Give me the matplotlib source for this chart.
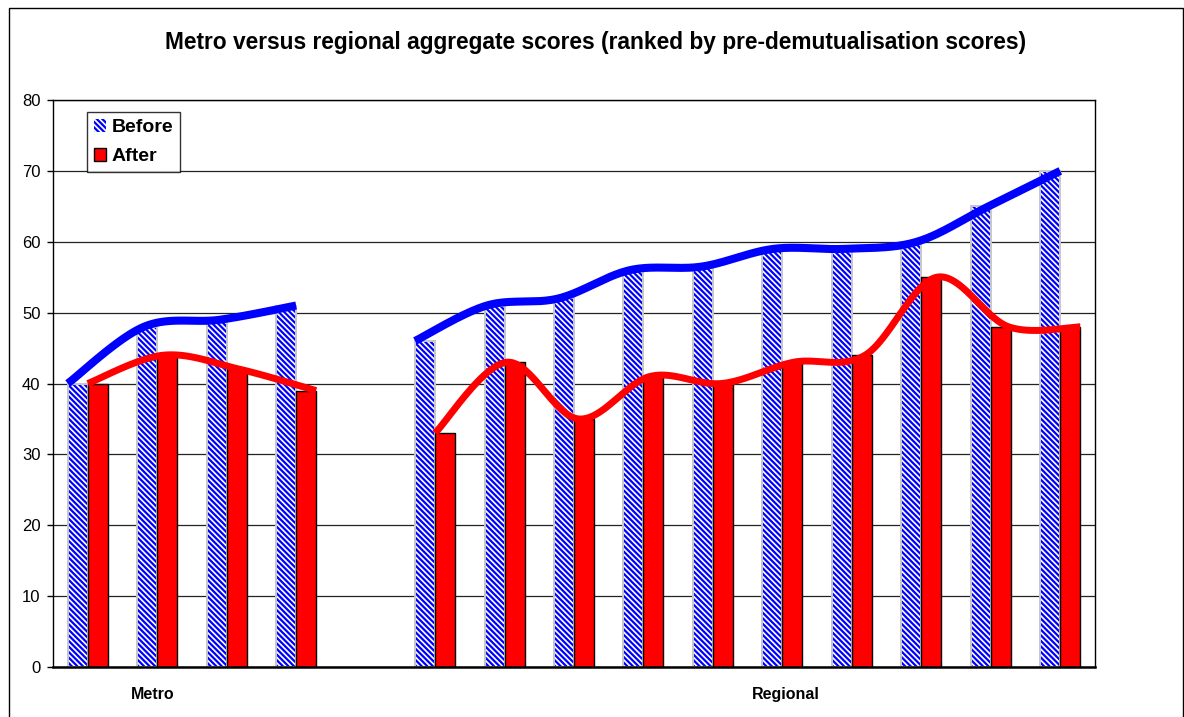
import numpy as np
import matplotlib
matplotlib.use("Agg")
import matplotlib.pyplot as plt
from matplotlib.patches import Rectangle, Patch

plt.rcParams['font.family'] = ['Liberation Sans', 'DejaVu Sans']
plt.rcParams['hatch.linewidth'] = 1.6

# ---- data ----
groups = ["Metro", "Regional"]
metro_before = [40, 48, 49, 51]
metro_after = [40, 44, 42, 39]
regional_before = [46, 51, 52, 56, 56.5, 59, 59, 60, 65, 70]
regional_after = [33, 43, 35, 41, 40, 43, 44, 55, 48, 48]
yticks = [0, 10, 20, 30, 40, 50, 60, 70, 80]
title = "Metro versus regional aggregate scores (ranked by pre-demutualisation scores)"

# ---- layout ----
W, H = 1184, 717
fig = plt.figure(figsize=(W / 100, H / 100), dpi=100)
ax = fig.add_axes([53 / W, 1 - 667 / H, (1095 - 53) / W, (667 - 100) / H])

bw = 0.288
HATCH = '\\' * 6
n_m = len(metro_before)
n_r = len(regional_before)
x_m = np.arange(n_m)
x_r = np.arange(n_r) + n_m + 1
ax.set_xlim(-0.5, n_m + 1 + n_r - 0.5)
ax.set_ylim(0, 80)


def smooth(xs, ys, n=40):
    xs = np.asarray(xs, float)
    ys = np.asarray(ys, float)
    P = np.column_stack([xs, ys])
    out = [P[0]]
    m = len(P)
    for i in range(m - 1):
        p0 = P[i - 1] if i > 0 else P[i]
        p1 = P[i]
        p2 = P[i + 1]
        p3 = P[i + 2] if i + 2 < m else P[i + 1]
        c1 = p1 + (p2 - p0) / 6.0
        c2 = p2 - (p3 - p1) / 6.0
        t = np.linspace(0, 1, n)[1:, None]
        seg = ((1 - t) ** 3) * p1 + 3 * ((1 - t) ** 2) * t * c1 + 3 * (1 - t) * t ** 2 * c2 + t ** 3 * p2
        out.extend(seg)
    out = np.array(out)
    return out[:, 0], out[:, 1]


for xs, before, after in [(x_m, metro_before, metro_after), (x_r, regional_before, regional_after)]:
    xb = xs - bw / 2
    xa = xs + bw / 2
    # hatched "Before" bars
    ax.bar(xb, before, width=bw, color='white', edgecolor='#0000ff', hatch=HATCH,
           linewidth=0, zorder=2)
    ax.bar(xb, before, width=bw, fill=False, edgecolor='#c8c8c8', linewidth=1.4, zorder=2.1)
    # "After" bars
    ax.bar(xa, after, width=bw, color='#ff0000', edgecolor='black', linewidth=1.0, zorder=2.2)
    # smoothed lines spanning the bar extents
    lxb = np.linspace(xb[0] - bw / 2, xb[-1] + bw / 2, len(xs))
    lxa = np.linspace(xa[0] - bw / 2, xa[-1] + bw / 2, len(xs))
    sx, sy = smooth(lxb, before)
    ax.plot(sx, sy, color='#0000ff', lw=5.8, solid_capstyle='butt', zorder=4)
    sx, sy = smooth(lxa, after)
    ax.plot(sx, sy, color='#ff0000', lw=5.0, solid_capstyle='butt', zorder=5)

# axes styling
ax.set_yticks(yticks)
ax.set_yticklabels([str(v) for v in yticks], fontsize=12)
ax.yaxis.grid(True, color='#222222', lw=0.9, zorder=1)
ax.set_axisbelow(True)
ax.tick_params(axis='y', direction='out', length=4, width=1, pad=5, colors='black')
ax.set_xticks([0.94, 10.05])
ax.set_xticklabels(groups, fontsize=11.5, fontweight='bold')
ax.tick_params(axis='x', length=0, pad=14.5)
for s in ['left', 'right', 'top']:
    ax.spines[s].set_color('black')
    ax.spines[s].set_linewidth(1.0)
ax.spines['bottom'].set_linewidth(1.8)

leg_handles = [Patch(facecolor='white', edgecolor='#0000ff', hatch=HATCH, lw=0),
               Patch(facecolor='#ff0000', edgecolor='black', lw=1)]
leg = ax.legend(leg_handles, ["Before", "After"], loc='upper left',
                bbox_to_anchor=(0.0326, 0.979), borderaxespad=0,
                prop={'weight': 'bold', 'size': 14}, frameon=True, fancybox=False,
                handlelength=0.65, handleheight=0.65, handletextpad=0.25,
                labelspacing=0.62, borderpad=0.35)
leg.get_frame().set_edgecolor('black')
leg.get_frame().set_linewidth(1.0)

fig.text(596 / W, 1 - 43 / H, title, ha='center', va='center',
         fontsize=16.4, fontweight='bold')

fig.add_artist(Rectangle((8.5 / W, -0.02), (1182.5 - 8.5) / W, (1 - 7.5 / H) + 0.02,
                         transform=fig.transFigure, fill=False, edgecolor='black', lw=1.0))

fig.savefig("out.png", dpi=100)
